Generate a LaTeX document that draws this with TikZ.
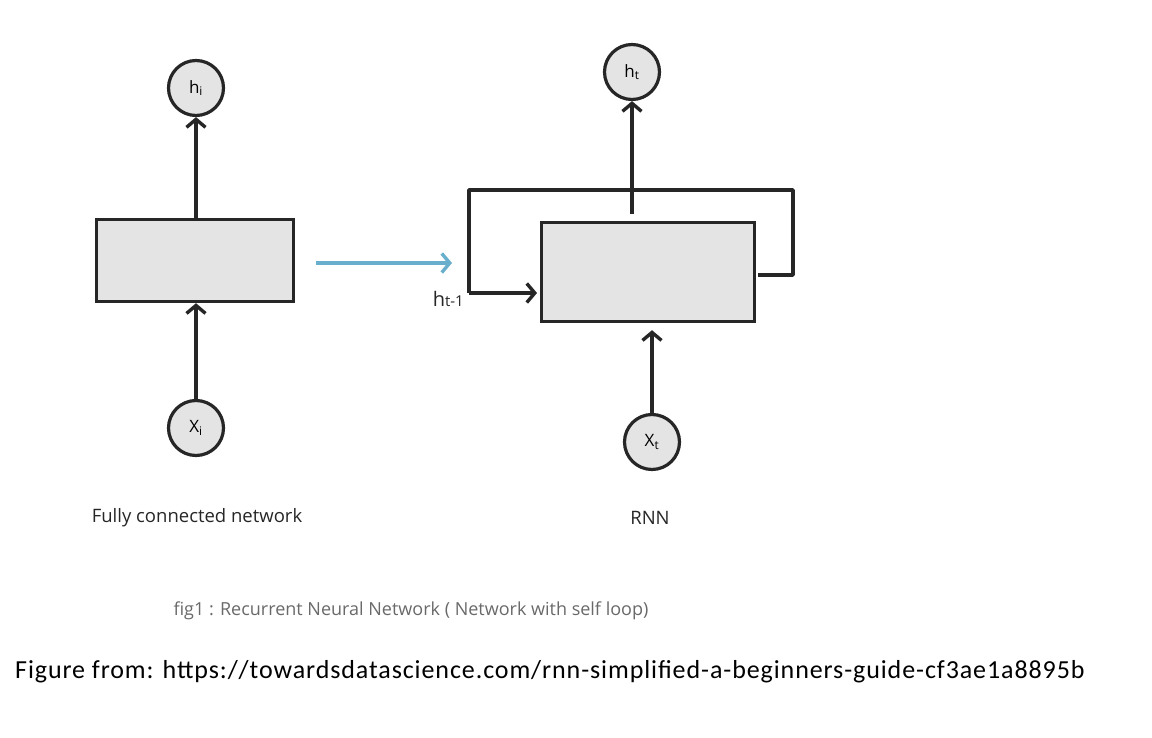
\documentclass[tikz,border=0pt]{standalone}
\usepackage{fontspec}
\setmainfont{Open Sans}
\newfontfamily\calib[LetterSpace=3.5]{Carlito}
\usetikzlibrary{arrows.meta}
\definecolor{ink}{RGB}{38,38,38}
\definecolor{boxfill}{RGB}{228,228,228}
\definecolor{skyblue}{RGB}{105,175,205}
\definecolor{capgray}{RGB}{105,105,105}
\tikzset{
  unit/.style={circle,draw=ink,fill=boxfill,line width=3.2pt,minimum size=55pt,inner sep=0pt,font=\fontsize{17}{18}\selectfont},
  cell/.style={draw=ink,fill=boxfill,line width=3.2pt,inner sep=0pt,anchor=north west},
  conn/.style={draw=ink,line width=3.4pt,-{Straight Barb[length=8pt,width=19pt,line width=3.4pt]}},
  loopline/.style={draw=ink,line width=3.4pt},
  lbl/.style={font=\fontsize{18.5}{20}\selectfont,text=ink},
}
\begin{document}
\begin{tikzpicture}[x=1pt,y=-1pt]
\useasboundingbox (0,0) rectangle (1152,738);
% left network
\node[cell,minimum width=197pt,minimum height=82pt] (fc) at (95,218) {};
\node[unit] (hi) at (196,88) {h\textsubscript{i}};
\node[unit] (xi) at (196,428) {X\textsubscript{i}};
\draw[conn] (xi) -- (xi |- fc.south);
\draw[conn] (fc.north -| hi) -- (hi);
\node[lbl] (fcl) at (197,518) {Fully connected network};
% blue arrow
\coordinate (b1) at (316,263);
\coordinate (b2) at (452,263);
\draw[draw=skyblue,line width=3.4pt,-{Straight Barb[length=8pt,width=19pt,line width=3.4pt]}] (b1) -- (b2);
% RNN
\node[cell,minimum width=213pt,minimum height=99pt] (rnn) at (540,221) {};
\node[unit] (ht) at (632,72) {h\textsubscript{t}};
\node[unit] (xt) at (652,442) {X\textsubscript{t}};
\draw[conn] ([yshift=7pt]ht |- rnn.north) -- (ht);
\draw[conn] (xt) -- ([yshift=-7pt]xt |- rnn.south);
\coordinate (l0) at (758,275);
\coordinate (l1) at (793,275);
\coordinate (l2) at (793,190);
\coordinate (l3) at (469,190);
\coordinate (l4) at (469,293);
\draw[loopline,line join=round] (l0) -- (l1) -- (l2) -- (l3) -- (l4);
\draw[conn] (l4) -- ([xshift=-3pt]l4 -| rnn.west);
\node[font=\fontsize{20}{22}\selectfont,text=ink,anchor=base east,inner sep=0pt] (htm) at (464,306) {h{\fontsize{15}{16}\selectfont t-1}};
\node[lbl] (rnnl) at (650,518) {RNN};
% captions
\node[font=\fontsize{18}{20}\selectfont,text=capgray] (cap) at (411,611) {fig1 : Recurrent Neural Network ( Network with self loop)};
\node[font=\calib\fontsize{26}{28}\selectfont,text=black,anchor=west,inner sep=0pt] (src) at (15,672) {Figure from: https://towardsdatascience.com/rnn-simplified-a-beginners-guide-cf3ae1a8895b};
\end{tikzpicture}
\end{document}
